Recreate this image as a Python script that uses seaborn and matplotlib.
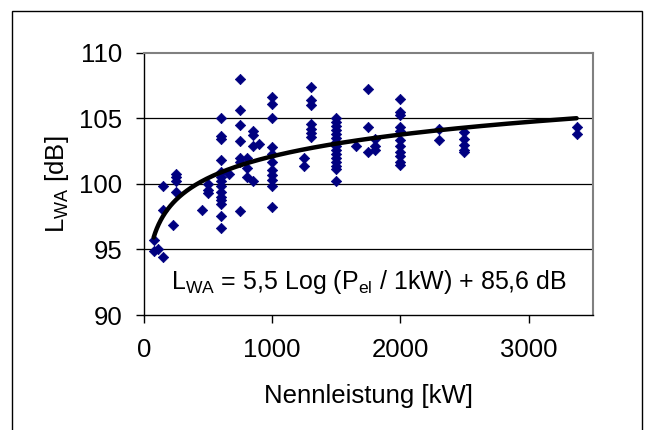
import numpy as np
import pandas as pd
import matplotlib
matplotlib.use("Agg")
import matplotlib.pyplot as plt
import seaborn as sns

# measured turbines: rated power [kW] and sound power level [dB]
power_kw = (
    [80, 80, 110, 150, 150, 150, 225, 250, 250, 250, 250, 450, 500, 500, 500]
    + [600] * 14 + [660] + [750] * 7 + [800] * 3 + [850] * 4 + [900]
    + [1000] * 11 + [1250] * 2 + [1300] * 7 + [1500] * 15 + [1650]
    + [1750] * 3 + [1800] * 3 + [2000] * 11 + [2300] * 2 + [2500] * 5
    + [3375] * 2
)
lwa_db = (
    [95.7, 94.9, 95.0, 94.4, 98.0, 99.8, 96.9, 100.75, 100.5, 100.2, 99.4, 98.0, 100.0, 99.5, 99.3]
    + [105.0, 103.65, 103.4, 101.8, 100.9, 100.5, 100.2, 99.8, 99.4, 99.0, 98.8, 98.5, 97.55, 96.6]
    + [100.75]
    + [108.0, 105.6, 104.5, 103.3, 101.95, 101.7, 97.9]
    + [101.95, 101.2, 100.5]
    + [104.05, 103.7, 102.9, 100.2]
    + [103.05]
    + [106.6, 106.1, 105.0, 102.8, 102.3, 101.7, 101.05, 100.7, 100.3, 99.8, 98.2]
    + [101.95, 101.4]
    + [107.4, 106.4, 106.0, 104.55, 104.2, 103.85, 103.6]
    + [105.0, 104.7, 104.4, 104.1, 103.8, 103.5, 103.2, 102.9, 102.6, 102.3, 102.0, 101.7, 101.4, 101.1, 100.2]
    + [102.85]
    + [107.2, 104.3, 102.4]
    + [103.4, 102.85, 102.6]
    + [106.5, 105.5, 105.25, 104.35, 104.05, 103.35, 102.85, 102.45, 102.1, 101.7, 101.45]
    + [104.2, 103.35]
    + [103.95, 103.45, 102.95, 102.6, 102.4]
    + [104.35, 103.8]
)

# trendline as stated on the chart: L_WA = 5,5 log(P/1kW) + 85,6 dB
FIT_SLOPE = 5.5
FIT_INTERCEPT = 85.6
FIT_RANGE = (75, 3375)

x_ticks = [0, 1000, 2000, 3000]
y_ticks = [90, 95, 100, 105, 110]

df = pd.DataFrame({"power": power_kw, "lwa": lwa_db})
fit_x = np.geomspace(FIT_RANGE[0], FIT_RANGE[1], 200)
fit_df = pd.DataFrame({"power": fit_x, "lwa": FIT_SLOPE * np.log10(fit_x) + FIT_INTERCEPT})

# ─────────────────────────────────────────────
sns.set_theme(style="white")
plt.rcParams["font.family"] = ["Liberation Sans", "DejaVu Sans"]
plt.rcParams["mathtext.fontset"] = "custom"
plt.rcParams["mathtext.rm"] = "Liberation Sans"
plt.rcParams["mathtext.it"] = "Liberation Sans"
plt.rcParams["text.color"] = "black"
plt.rcParams["axes.labelcolor"] = "black"
plt.rcParams["xtick.color"] = "black"
plt.rcParams["ytick.color"] = "black"

FS = 18.5

fig = plt.figure(figsize=(6.45, 4.3), dpi=100)
ax = fig.add_axes([0.2233, 0.2674, 0.6955, 0.61])

# outer chart frame (bottom edge is cut off in the original)
fig.patches.append(plt.Rectangle((12 / 645, -0.05), 630 / 645, 1 - 11 / 430 + 0.05,
                                 transform=fig.transFigure, fill=False,
                                 edgecolor="black", linewidth=1.0))

for y in [95, 100, 105]:
    ax.axhline(y, color="black", linewidth=0.9, zorder=1)

sns.scatterplot(data=df, x="power", y="lwa", marker="D", s=28, color="#000080",
                edgecolor="#000080", linewidth=0.5, ax=ax, zorder=3)
sns.lineplot(data=fit_df, x="power", y="lwa", color="black", linewidth=3.2,
             ax=ax, zorder=4)

ax.set_xlim(0, 3500)
ax.set_ylim(90, 110)
ax.set_xticks(x_ticks)
ax.set_yticks(y_ticks)
ax.tick_params(axis="both", labelsize=FS, length=5.5, width=1.0, color="black",
               direction="out", bottom=True, left=True)
ax.tick_params(axis="y", pad=10)
ax.tick_params(axis="x", pad=11)

for side in ["top", "right"]:
    ax.spines[side].set_color("#808080")
    ax.spines[side].set_linewidth(1.5)
for side in ["left", "bottom"]:
    ax.spines[side].set_color("black")
    ax.spines[side].set_linewidth(1.0)

ax.set_xlabel("Nennleistung [kW]", fontsize=FS)
ax.set_ylabel(r"L$_{\mathrm{WA}}$ [dB]", fontsize=FS)
ax.xaxis.label.set_va("center")
ax.yaxis.label.set_va("center")
ax.xaxis.set_label_coords(0.5, -0.31)
ax.yaxis.set_label_coords(-0.195, 0.5)

ax.text(1758, 92.5, r"L$_{\mathrm{WA}}$ = 5,5 Log (P$_{\mathrm{el}}$ / 1kW) + 85,6 dB",
        fontsize=18, ha="center", va="center")

fig.savefig("out.png", dpi=100)
